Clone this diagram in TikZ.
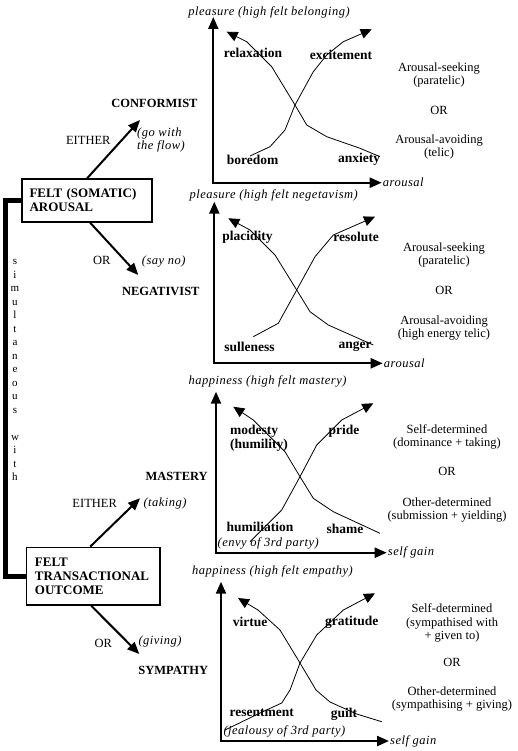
\documentclass[tikz,border=0pt]{standalone}
\usepackage{fontspec}
\setmainfont{Liberation Serif}
\newfontfamily\itf[LetterSpace=4.0]{Liberation Serif}
\usetikzlibrary{arrows.meta}
\begin{document}
\begin{tikzpicture}[x=1pt,y=-1pt,
 box/.style={draw, line width=1.6pt, font=\fontsize{13}{14}\selectfont\bfseries, align=left, inner ysep=0pt},
 arr/.style={line width=2pt, -{Triangle[length=12pt,width=10pt]}},
 axis/.style={line width=2.2pt, {Triangle[length=12pt,width=10pt]}-{Triangle[length=12pt,width=10pt]}, line join=miter},
 crv/.style={line width=0.8pt, -{Triangle[length=11pt,width=10pt]}, line join=round},
 bar/.style={line width=5pt, line join=miter},
 lbl/.style={font=\fontsize{13.5}{13.4}\selectfont\bfseries, inner sep=0pt},
 head/.style={font=\fontsize{12.5}{13.4}\selectfont\bfseries, inner sep=0pt},
 txt/.style={font=\fontsize{12.5}{13.4}\selectfont, inner sep=0pt, align=center},
 itl/.style={font=\itf\itshape\fontsize{12.5}{13.4}\selectfont, inner sep=0pt},
 vlet/.style={font=\fontsize{11}{12}\selectfont, anchor=base, inner sep=0pt}
]
\useasboundingbox (0,0) rectangle (517,751);

% ---------- left column ----------
\node[box, text width=115pt, inner xsep=7.5pt, minimum height=42.5pt] (box1) at (87,200.5) {FELT (SOMATIC)\\AROUSAL};
\node[box, text width=116.7pt, inner xsep=8.3pt, minimum height=57.7pt] (box2) at (93.3,576.2) {FELT\\TRANSACTIONAL\\OUTCOME};

\coordinate (barx) at (5,400);
\draw[bar] (box1.west) -| (barx) |- (box2.west);

\foreach \c/\r [count=\i] in {s/0,i/1,m/2,u/3,l/4,t/5,a/6,n/7,e/8,o/9,u/10,s/11,w/13,i/14,t/15,h/16}
  \node[vlet] (v\i) at (15,264.5+13.5*\r) {\c};

\coordinate (t1) at (140,120);
\coordinate (t2) at (138.3,275);
\coordinate (t3) at (140,498.3);
\coordinate (t4) at (139.3,654);
\draw[arr] (box1.north) -- (t1);
\draw[arr] ([xshift=3pt]box1.south) -- (t2);
\draw[arr] ([xshift=-3pt]box2.north) -- (t3);
\draw[arr] ([xshift=-2pt]box2.south) -- (t4);

\node[head] (conf) at (154.5,103) {CONFORMIST};
\node[txt] (either1) at (88.3,140) {EITHER};
\node[itl, align=left, anchor=west] (flow) at (137,140) {(go with\\the flow)};
\node[txt] (or1) at (101.7,260) {OR};
\node[itl, anchor=west] (sayno) at (141.7,261.7) {(say no)};
\node[head] (neg) at (160.8,291.7) {NEGATIVIST};

\node[head] (mast) at (176.7,476.7) {MASTERY};
\node[txt] (either2) at (94.7,503.3) {EITHER};
\node[itl, anchor=west] (taking) at (143.3,503.3) {(taking)};
\node[txt] (or2) at (103.3,643.3) {OR};
\node[itl, anchor=west] (giving) at (138.3,641.7) {(giving)};
\node[head] (symp) at (173.3,670) {SYMPATHY};

% ---------- graph 1 ----------
\coordinate (o1) at (213.3,182.7);
\coordinate (y1) at (213.3,17);
\coordinate (x1) at (381.7,182.7);
\draw[axis] (y1) -- (o1) -- (x1);
\node[itl, anchor=east] (ti1) at (350,12) {pleasure (high felt belonging)};
\node[itl, anchor=west] (xl1) at ([xshift=1pt]x1) {arousal};
\draw[crv] (380,156.7) -- (360,148.3) -- (326.7,136.7) -- (306.7,125) -- (295,105) -- (271.7,66.7) -- (246.7,41.7) -- (226.7,31.7);
\draw[crv] (250,156) -- (270,146.7) -- (285,130) -- (295,105) -- (313.3,71.7) -- (326.7,55) -- (343.3,41.7) -- (371.7,29.3);
\node[lbl] (relax) at (253,53) {relaxation};
\node[lbl] (excit) at (341,55) {excitement};
\node[lbl] (bored) at (252.5,160) {boredom};
\node[lbl] (anx) at (359,159) {anxiety};
\node[txt] (r1a) at (439,75) {Arousal-seeking\\(paratelic)};
\node[txt] (r1b) at (439,110) {OR};
\node[txt] (r1c) at (439,146.7) {Arousal-avoiding\\(telic)};

% ---------- graph 2 ----------
\coordinate (o2) at (214.3,363.3);
\coordinate (y2) at (214.3,201.7);
\coordinate (x2) at (382.7,363.3);
\draw[axis] (y2) -- (o2) -- (x2);
\node[itl, anchor=east] (ti2) at (358,195) {pleasure (high felt negetavism)};
\node[itl, anchor=west] (xl2) at ([xshift=1pt]x2) {arousal};
\draw[crv] (373.3,345) -- (328.3,325) -- (310,311.7) -- (296.7,290) -- (275,255) -- (250,230) -- (228.3,218.3);
\draw[crv] (253.3,336.7) -- (278.3,323.3) -- (296.7,290) -- (315,256.7) -- (333.3,235) -- (375,216.7);
\node[lbl] (plac) at (247.5,237) {placidity};
\node[lbl] (resol) at (356,237) {resolute};
\node[lbl] (sull) at (249.5,346.7) {sulleness};
\node[lbl] (anger) at (355,346.7) {anger};
\node[txt] (r2a) at (444,255) {Arousal-seeking\\(paratelic)};
\node[txt] (r2b) at (444,290) {OR};
\node[txt] (r2c) at (444,328.3) {Arousal-avoiding\\(high energy telic)};

% ---------- graph 3 ----------
\coordinate (o3) at (216,552.7);
\coordinate (y3) at (216,391.7);
\coordinate (x3) at (386.7,552.7);
\draw[axis] (y3) -- (o3) -- (x3);
\node[itl, anchor=east] (ti3) at (346.7,381.7) {happiness (high felt mastery)};
\node[itl, anchor=west] (xl3) at ([xshift=1pt]x3) {self gain};
\draw[crv] (380,533.3) -- (333.3,511.7) -- (313.3,498.3) -- (300,476.7) -- (285,451.7) -- (253.3,420) -- (233.3,406.7);
\draw[crv] (250,541.7) -- (281.7,510) -- (300,476.7) -- (316.7,445) -- (341.7,420) -- (373.3,403.3);
\node[lbl, align=left, anchor=west] (mod) at (230,438.3) {modesty\\(humility)};
\node[lbl] (pride) at (344,431.7) {pride};
\node[lbl] (humil) at (260,526.7) {humiliation};
\node[lbl] (shame) at (345,529.3) {shame};
\node[itl, anchor=west] (envy) at (217.5,543.3) {(envy of 3rd party)};
\node[txt] (r3a) at (447,436.7) {Self-determined\\(dominance + taking)};
\node[txt] (r3b) at (447,471.7) {OR};
\node[txt] (r3c) at (447,510) {Other-determined\\(submission + yielding)};

% ---------- graph 4 ----------
\coordinate (o4) at (221,741);
\coordinate (y4) at (221,581.7);
\coordinate (x4) at (389,741);
\draw[axis] (y4) -- (o4) -- (x4);
\node[itl, anchor=east] (ti4) at (353,571.7) {happiness (high felt empathy)};
\node[itl, anchor=west] (xl4) at ([xshift=1pt]x4) {self gain};
\draw[crv] (381.7,721.7) -- (356.7,714) -- (330,702) -- (316,690) -- (300,663) -- (280,630) -- (258,610) -- (238,598);
\draw[crv] (225,730) -- (260,713) -- (281.7,703) -- (290,690) -- (300,663) -- (316.7,635) -- (343.3,610) -- (375,593.3);
\node[lbl] (virt) at (250,622) {virtue};
\node[lbl] (grat) at (351.7,622) {gratitude};
\node[lbl] (resent) at (261.7,713) {resentment};
\node[lbl] (guilt) at (344,714) {guilt};
\node[itl, anchor=west] (jeal) at (223.3,731.7) {(jealousy of 3rd party)};
\node[txt] (r4a) at (452,623.3) {Self-determined\\(sympathised with\\+ given to)};
\node[txt] (r4b) at (452,662) {OR};
\node[txt] (r4c) at (452,699) {Other-determined\\(sympathising + giving)};
\end{tikzpicture}
\end{document}
